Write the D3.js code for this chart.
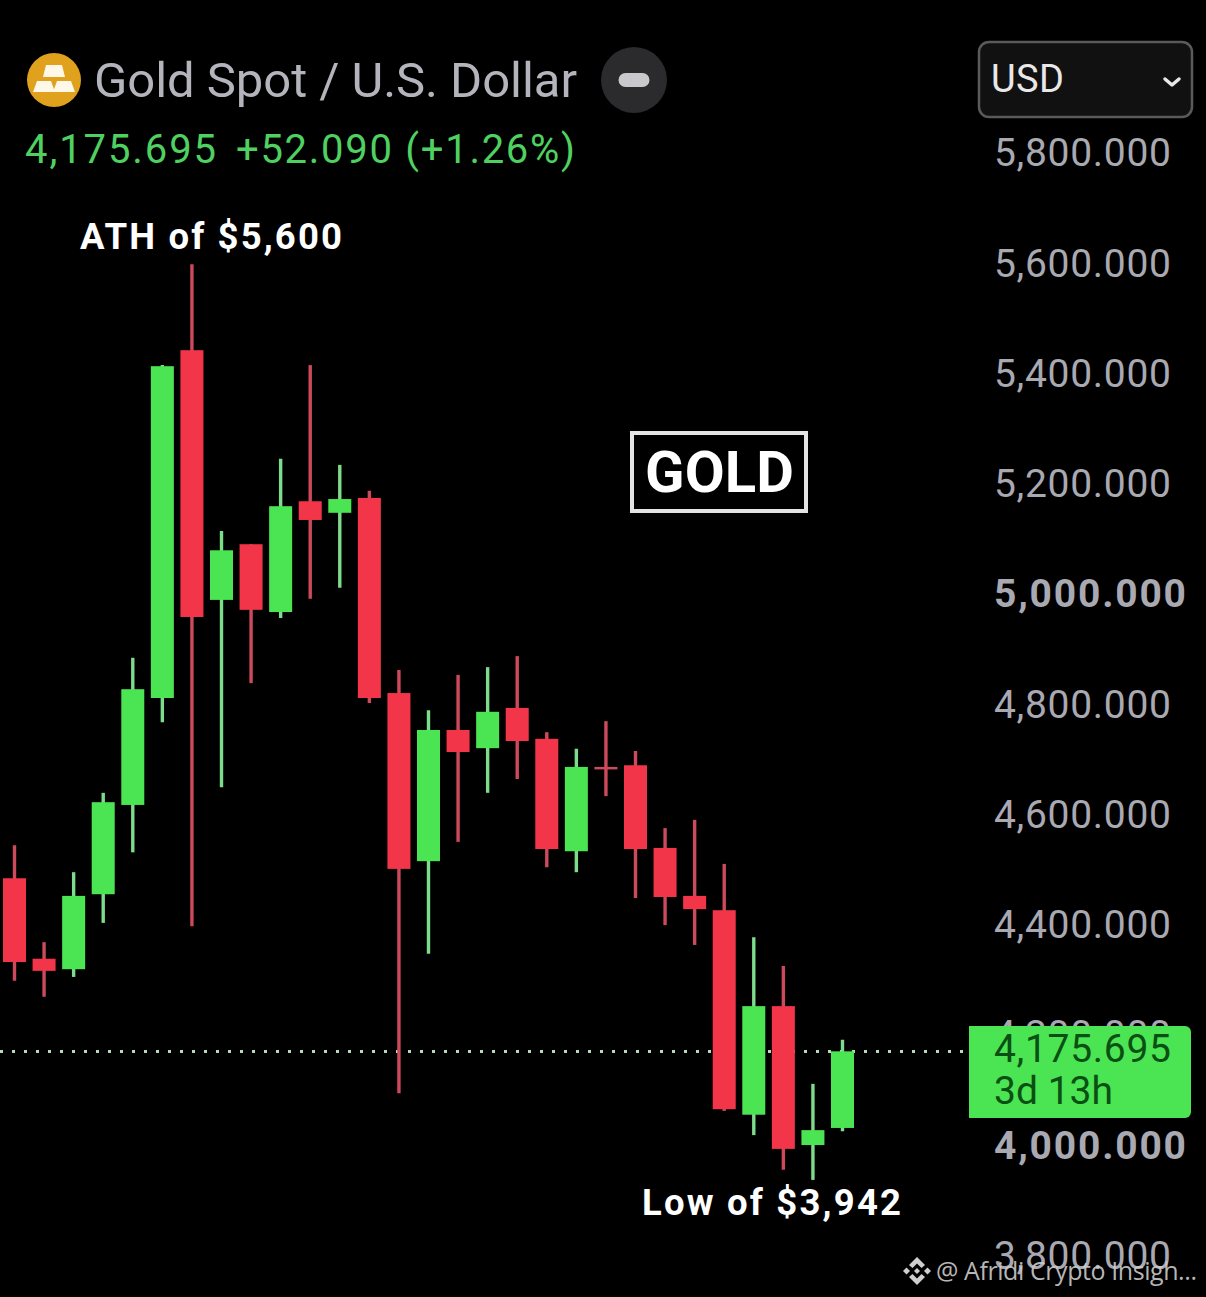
<!DOCTYPE html>
<html><head><meta charset="utf-8">
<script src="https://cdn.jsdelivr.net/npm/d3@7"></script>
<style>html,body{margin:0;padding:0;background:#000;overflow:hidden}svg{display:block}</style>
</head><body><svg id="c" width="1206" height="1297"></svg>
<script>
const opens  = [4490,4344,4325,4461,4623,4817,5448,4995,5096,4973,5174,5153,5180,4826,4521,4759,4726,4799,4743,4539,4692,4695,4545,4458,4432,4061,4258,4006,4037];
const closes = [4338,4322,4458,4628,4833,5419,4964,5085,4977,5165,5140,5178,4817,4507,4759,4719,4792,4739,4543,4692,4690,4543,4456,4434,4071,4258,3999,4033,4176];
const highs  = [4550,4374,4501,4645,4890,5421,5604,5120,5096,5251,5421,5240,5193,4868,4795,4859,4873,4893,4755,4725,4775,4721,4581,4596,4516,4383,4331,4117,4197];
const lows   = [4304,4275,4311,4409,4537,4773,4403,4655,4844,4962,4997,5017,4808,4100,4353,4556,4645,4670,4510,4501,4639,4454,4405,4369,4068,4024,3961,3942.7,4031];
const priceTicks = [5800,5600,5400,5200,5000,4800,4600,4400,4200,4000,3800];
const boldTicks = [5000,4000];
const lastPrice = 4175.695;
const titleText = "Gold Spot / U.S. Dollar";
const quoteText = "4,175.695";
const changeText = "+52.090 (+1.26%)";
const countdown = "3d 13h";

const UP="#4be452", DOWN="#f33549", UPW="#7ddb8c", DOWNW="#cc4a5c", GREY="#a9a9b2";
const FONT="Roboto, 'Open Sans', sans-serif";
const svg=d3.select("#c");
svg.append("rect").attr("width",1206).attr("height",1297).attr("fill","#000");

const x=d3.scaleLinear().domain([0,28]).range([14.5,842.5]);
const k=110.24/200;
const y=d3.scaleLinear().domain([lastPrice,lastPrice-1000]).range([1051.5,1051.5+1000*k]);
const data=opens.map((o,i)=>({i,o,c:closes[i],h:highs[i],l:lows[i]}));
const isUp=d=>d.c>d.o;

// header
const icon=svg.append("g").attr("transform","translate(54,80)");
icon.append("circle").attr("r",27).attr("fill","#e0a11c");
icon.selectAll("path").data(["M-8,-15H8L11,-3H-11Z","M-17,1H-3L1,12H-21Z","M3,1H17L21,12H-1Z"]).join("path").attr("d",d=>d).attr("fill","#fff8e8");
svg.append("text").attr("x",94).attr("y",97).attr("font-family",FONT).attr("font-size",49).attr("fill","#b4b4bc").attr("textLength",483).attr("lengthAdjust","spacing").text(titleText);
svg.append("circle").attr("cx",634).attr("cy",80).attr("r",33).attr("fill","#2b2b2d");
svg.append("rect").attr("x",618.5).attr("y",73).attr("width",31).attr("height",14).attr("rx",7).attr("fill","#c9c9cd");
svg.append("text").attr("x",25).attr("y",163).attr("font-family",FONT).attr("font-size",40).attr("fill","#4fd162").attr("textLength",191).attr("lengthAdjust","spacing").text(quoteText);
svg.append("text").attr("x",236).attr("y",163).attr("font-family",FONT).attr("font-size",40).attr("fill","#4fd162").attr("textLength",339).attr("lengthAdjust","spacing").text(changeText);

// price axis
const axis=d3.axisRight(y).tickValues(priceTicks).tickSize(0).tickPadding(0).tickFormat(d3.format(",.3f"));
const ag=svg.append("g").attr("transform","translate(994,-2.8)").call(axis);
ag.select(".domain").remove();
ag.selectAll("text").attr("font-family",FONT).attr("fill",GREY)
  .attr("font-size",39)
  .attr("font-weight",d=>boldTicks.includes(d)?700:400)
  .attr("textLength",d=>boldTicks.includes(d)?192:177)
  .attr("lengthAdjust","spacing");

// currency select
svg.append("rect").attr("x",979).attr("y",42).attr("width",213).attr("height",75).attr("rx",10).attr("fill","#111").attr("stroke","#5a5a5a").attr("stroke-width",2.5);
svg.append("text").attr("x",991).attr("y",92).attr("font-family",FONT).attr("font-size",38).attr("fill","#e8e8e8").attr("textLength",73).attr("lengthAdjust","spacing").text("USD");
svg.append("path").attr("d","M1165,79L1172,85L1179,79").attr("fill","none").attr("stroke","#e8e8e8").attr("stroke-width",3.5).attr("stroke-linecap","round").attr("stroke-linejoin","round");

// last price line
svg.append("line").attr("x1",0).attr("x2",968).attr("y1",y(lastPrice)).attr("y2",y(lastPrice)).attr("stroke","#b5dcb8").attr("stroke-width",3).attr("stroke-dasharray","3 9").attr("stroke-dashoffset",0);

// candles
const g=svg.append("g");
g.selectAll("line").data(data).join("line")
 .attr("x1",d=>x(d.i)).attr("x2",d=>x(d.i)).attr("y1",d=>y(d.h)).attr("y2",d=>y(d.l))
 .attr("stroke",d=>isUp(d)?UPW:DOWNW).attr("stroke-width",3.4);
g.selectAll("rect").data(data).join("rect")
 .attr("x",d=>x(d.i)-11.5).attr("width",23)
 .attr("y",d=>y(Math.max(d.o,d.c)))
 .attr("height",d=>Math.max(2.5,Math.abs(y(d.o)-y(d.c))))
 .attr("fill",d=>Math.abs(d.o-d.c)<4?DOWNW:(isUp(d)?UP:DOWN));

// last price label
svg.append("path").attr("d","M969,1026H1185a6,6 0 0 1 6,6V1112a6,6 0 0 1 -6,6H969Z").attr("fill",UP);
svg.append("text").attr("x",994).attr("y",1062).attr("font-family",FONT).attr("font-size",39).attr("fill","#0a4f13").attr("textLength",177).attr("lengthAdjust","spacing").text(d3.format(",.3f")(lastPrice));
svg.append("text").attr("x",994).attr("y",1104).attr("font-family",FONT).attr("font-size",39).attr("fill","#0a4f13").attr("textLength",119).attr("lengthAdjust","spacing").text(countdown);

// annotations
svg.append("text").attr("x",80).attr("y",249).attr("font-family",FONT).attr("font-size",36.5).attr("font-weight",700).attr("fill","#fff").attr("textLength",262).attr("lengthAdjust","spacing").text("ATH of $5,600");
svg.append("text").attr("x",642).attr("y",1215).attr("font-family",FONT).attr("font-size",36.5).attr("font-weight",700).attr("fill","#fff").attr("textLength",259).attr("lengthAdjust","spacing").text("Low of $3,942");
svg.append("rect").attr("x",632).attr("y",433).attr("width",174).attr("height",78).attr("fill","none").attr("stroke","#e4e4e4").attr("stroke-width",4);
svg.append("text").attr("x",645).attr("y",492).attr("font-family",FONT).attr("font-size",58).attr("font-weight",700).attr("fill","#fff").attr("textLength",149).attr("lengthAdjust","spacing").text("GOLD");

// watermark
const wm=svg.append("g").attr("transform","translate(917,1271)").attr("fill","#cfcfcf");
wm.selectAll("path").data(["M0,-14L8,-6L4.5,-3L0,-7.5L-4.5,-3L-8,-6Z","M0,14L8,6L4.5,3L0,7.5L-4.5,3L-8,6Z","M-14,0L-10.5,-3.5L-7,0L-10.5,3.5Z","M14,0L10.5,-3.5L7,0L10.5,3.5Z","M0,-3L3,0L0,3L-3,0Z"]).join("path").attr("d",d=>d);
svg.append("text").attr("x",936).attr("y",1280).attr("font-family","'Open Sans', sans-serif").attr("font-size",25).attr("fill","#c9c9c9").attr("fill-opacity",0.92).attr("textLength",261).attr("lengthAdjust","spacing").text("@ Afridi Crypto Insigh...");
</script></body></html>
